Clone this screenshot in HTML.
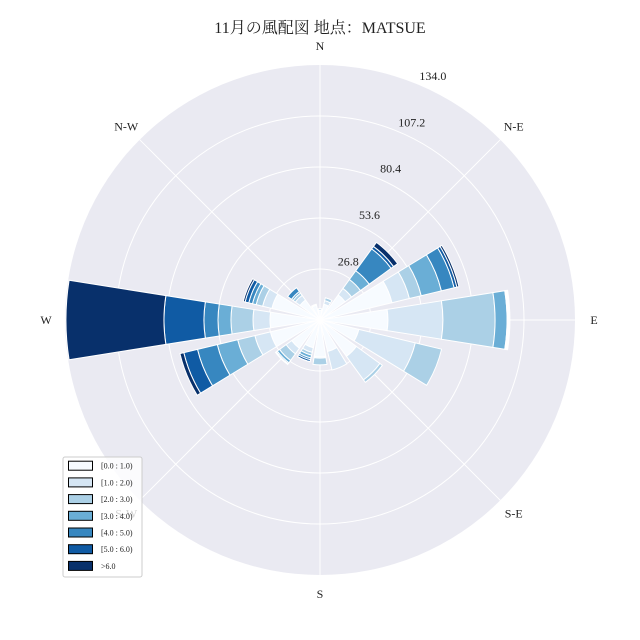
<!DOCTYPE html>
<html><head><meta charset="utf-8">
<style>
html,body{margin:0;padding:0;background:#fff;}
svg{display:block;font-family:"Liberation Serif","Noto Serif CJK SC",serif;}
</style></head>
<body>
<svg id="chart" width="640" height="640" viewBox="0 0 640 640" xmlns="http://www.w3.org/2000/svg">
<text x="320" y="33" text-anchor="middle" font-size="16" fill="#222">11月の風配図 地点：MATSUE</text>
<g id="grid"></g>
<g id="bars"></g>
<g id="labels"></g>
<g id="legend"></g>
</svg>
<script>
const directions = ["N","NNE","NE","ENE","E","ESE","SE","SSE","S","SSW","SW","WSW","W","WNW","NW","NNW"];
// cumulative frequency per speed bin (each array = upper edge of bin for the 16 directions)
const bin0 = [5, 8.5, 16.3, 38.9, 35.7, 21, 23.6, 17, 19.4, 15, 18.4, 26.8, 26.3, 26, 13, 8];
const bin1 = [6, 10.5, 20.5, 48.3, 64.6, 51.5, 38.9, 27, 20, 17.5, 22, 35.2, 35.2, 31, 16, 8.5];
const bin2 = [6, 12, 26.3, 54.7, 92, 65.7, 40.5, 27, 23.6, 19, 26.3, 44.5, 46.8, 34.5, 17.5, 8.5];
const bin3 = [6, 12, 32, 65.6, 98.3, 65.7, 40.5, 27, 23.6, 20.5, 27.8, 55.5, 53.6, 36.5, 18.5, 8.5];
const bin4 = [6, 12, 46.2, 72.5, 98.8, 65.7, 40.5, 27, 23.6, 21.5, 28.4, 66.2, 61, 38.5, 21, 8.5];
const bin5 = [6, 12, 47.8, 74, 99.3, 65.7, 40.5, 27, 23.6, 22.5, 28.9, 73.6, 82, 40.5, 21, 8.5];
const bin6 = [6, 12, 50.4, 75.1, 99.8, 65.7, 40.5, 27, 23.6, 22.6, 28.9, 75.7, 133.5, 41.5, 21, 8.5];
const binLabels = ["[0.0 : 1.0)","[1.0 : 2.0)","[2.0 : 3.0)","[3.0 : 4.0)","[4.0 : 5.0)","[5.0 : 6.0)",">6.0"];
const binColors = ["#f7fbff","#d6e6f4","#abd0e6","#6aaed6","#3787c0","#105ba4","#08306b"];
const ringTicks = [26.8, 53.6, 80.4, 107.2, 134.0];
const compassLabels = ["N","N-E","E","S-E","S","S-W","W","N-W"];

const NS="http://www.w3.org/2000/svg";
const cx=320, cy=320, R=255, rmax=134.0;
const rScale = v => v/rmax*R;
const pt = (r,deg) => { const a=deg*Math.PI/180; return [cx+r*Math.sin(a), cy-r*Math.cos(a)]; };
function mk(tag, attrs, parent){ const e=document.createElementNS(NS,tag); for(const k in attrs) e.setAttribute(k,attrs[k]); parent.appendChild(e); return e; }

const grid=document.getElementById('grid');
const bg=mk('circle',{cx:cx,cy:cy,r:R,fill:'#eaeaf2'},grid);


ringTicks.slice(0,-1).forEach(t=>{
  const c=mk('circle',{cx:cx,cy:cy,r:rScale(t),fill:'none',stroke:'#fff','stroke-width':1},grid);
  
  
});
for(let i=0;i<8;i++){
  const [x,y]=pt(R,i*45);
  const l=mk('line',{x1:cx,y1:cy,x2:x,y2:y,stroke:'#fff','stroke-width':1},grid);
  
  
}

const bars=document.getElementById('bars');
const bins=[bin0,bin1,bin2,bin3,bin4,bin5,bin6];
const hw=9;
function sector(r0,r1,a){
  const [x1,y1]=pt(r1,a-hw),[x2,y2]=pt(r1,a+hw),[x3,y3]=pt(r0,a+hw),[x4,y4]=pt(r0,a-hw);
  return `M${x1},${y1} A${r1},${r1} 0 0 1 ${x2},${y2} L${x3},${y3} A${r0},${r0} 0 0 0 ${x4},${y4} Z`;
}
directions.forEach((d,i)=>{
  const a=i*22.5;
  let prev=0;
  bins.forEach((arr,b)=>{
    const v=arr[i];
    if(v>prev){
      const p=mk('path',{d:sector(rScale(prev),rScale(v),a),fill:binColors[b],stroke:'#fff','stroke-width':1},bars);
      
      
    }
    prev=Math.max(prev,v);
  });
});

const labels=document.getElementById('labels');
compassLabels.forEach((s,i)=>{
  const [x,y]=pt(274,i*45);
  const t=mk('text',{x:x,y:y+4,'text-anchor':'middle','font-size':12,fill:'#222'},labels);
  t.textContent=s;
  
  
});
ringTicks.forEach(v=>{
  const [x,y]=pt(rScale(v)+10,24.5);
  const t=mk('text',{x:x+3,y:y+1,'text-anchor':'middle','font-size':12,fill:'#222'},labels);
  t.textContent=v.toFixed(1);
  
  
});

const lg=document.getElementById('legend');


mk('rect',{x:63,y:457,width:79,height:120,rx:2,fill:'rgba(255,255,255,0.8)',stroke:'#ccc','stroke-width':1},lg);
binLabels.forEach((s,i)=>{
  const y=465.7+i*16.7;
  const r=mk('rect',{x:68.5,y:y-4.5,width:24,height:9,fill:binColors[i],stroke:'#000','stroke-width':1},lg);
  
  
  const t=mk('text',{x:101,y:y+3,'font-size':8,fill:'#222'},lg);
  t.textContent=s;
  
  
});
</script>
</body></html>
